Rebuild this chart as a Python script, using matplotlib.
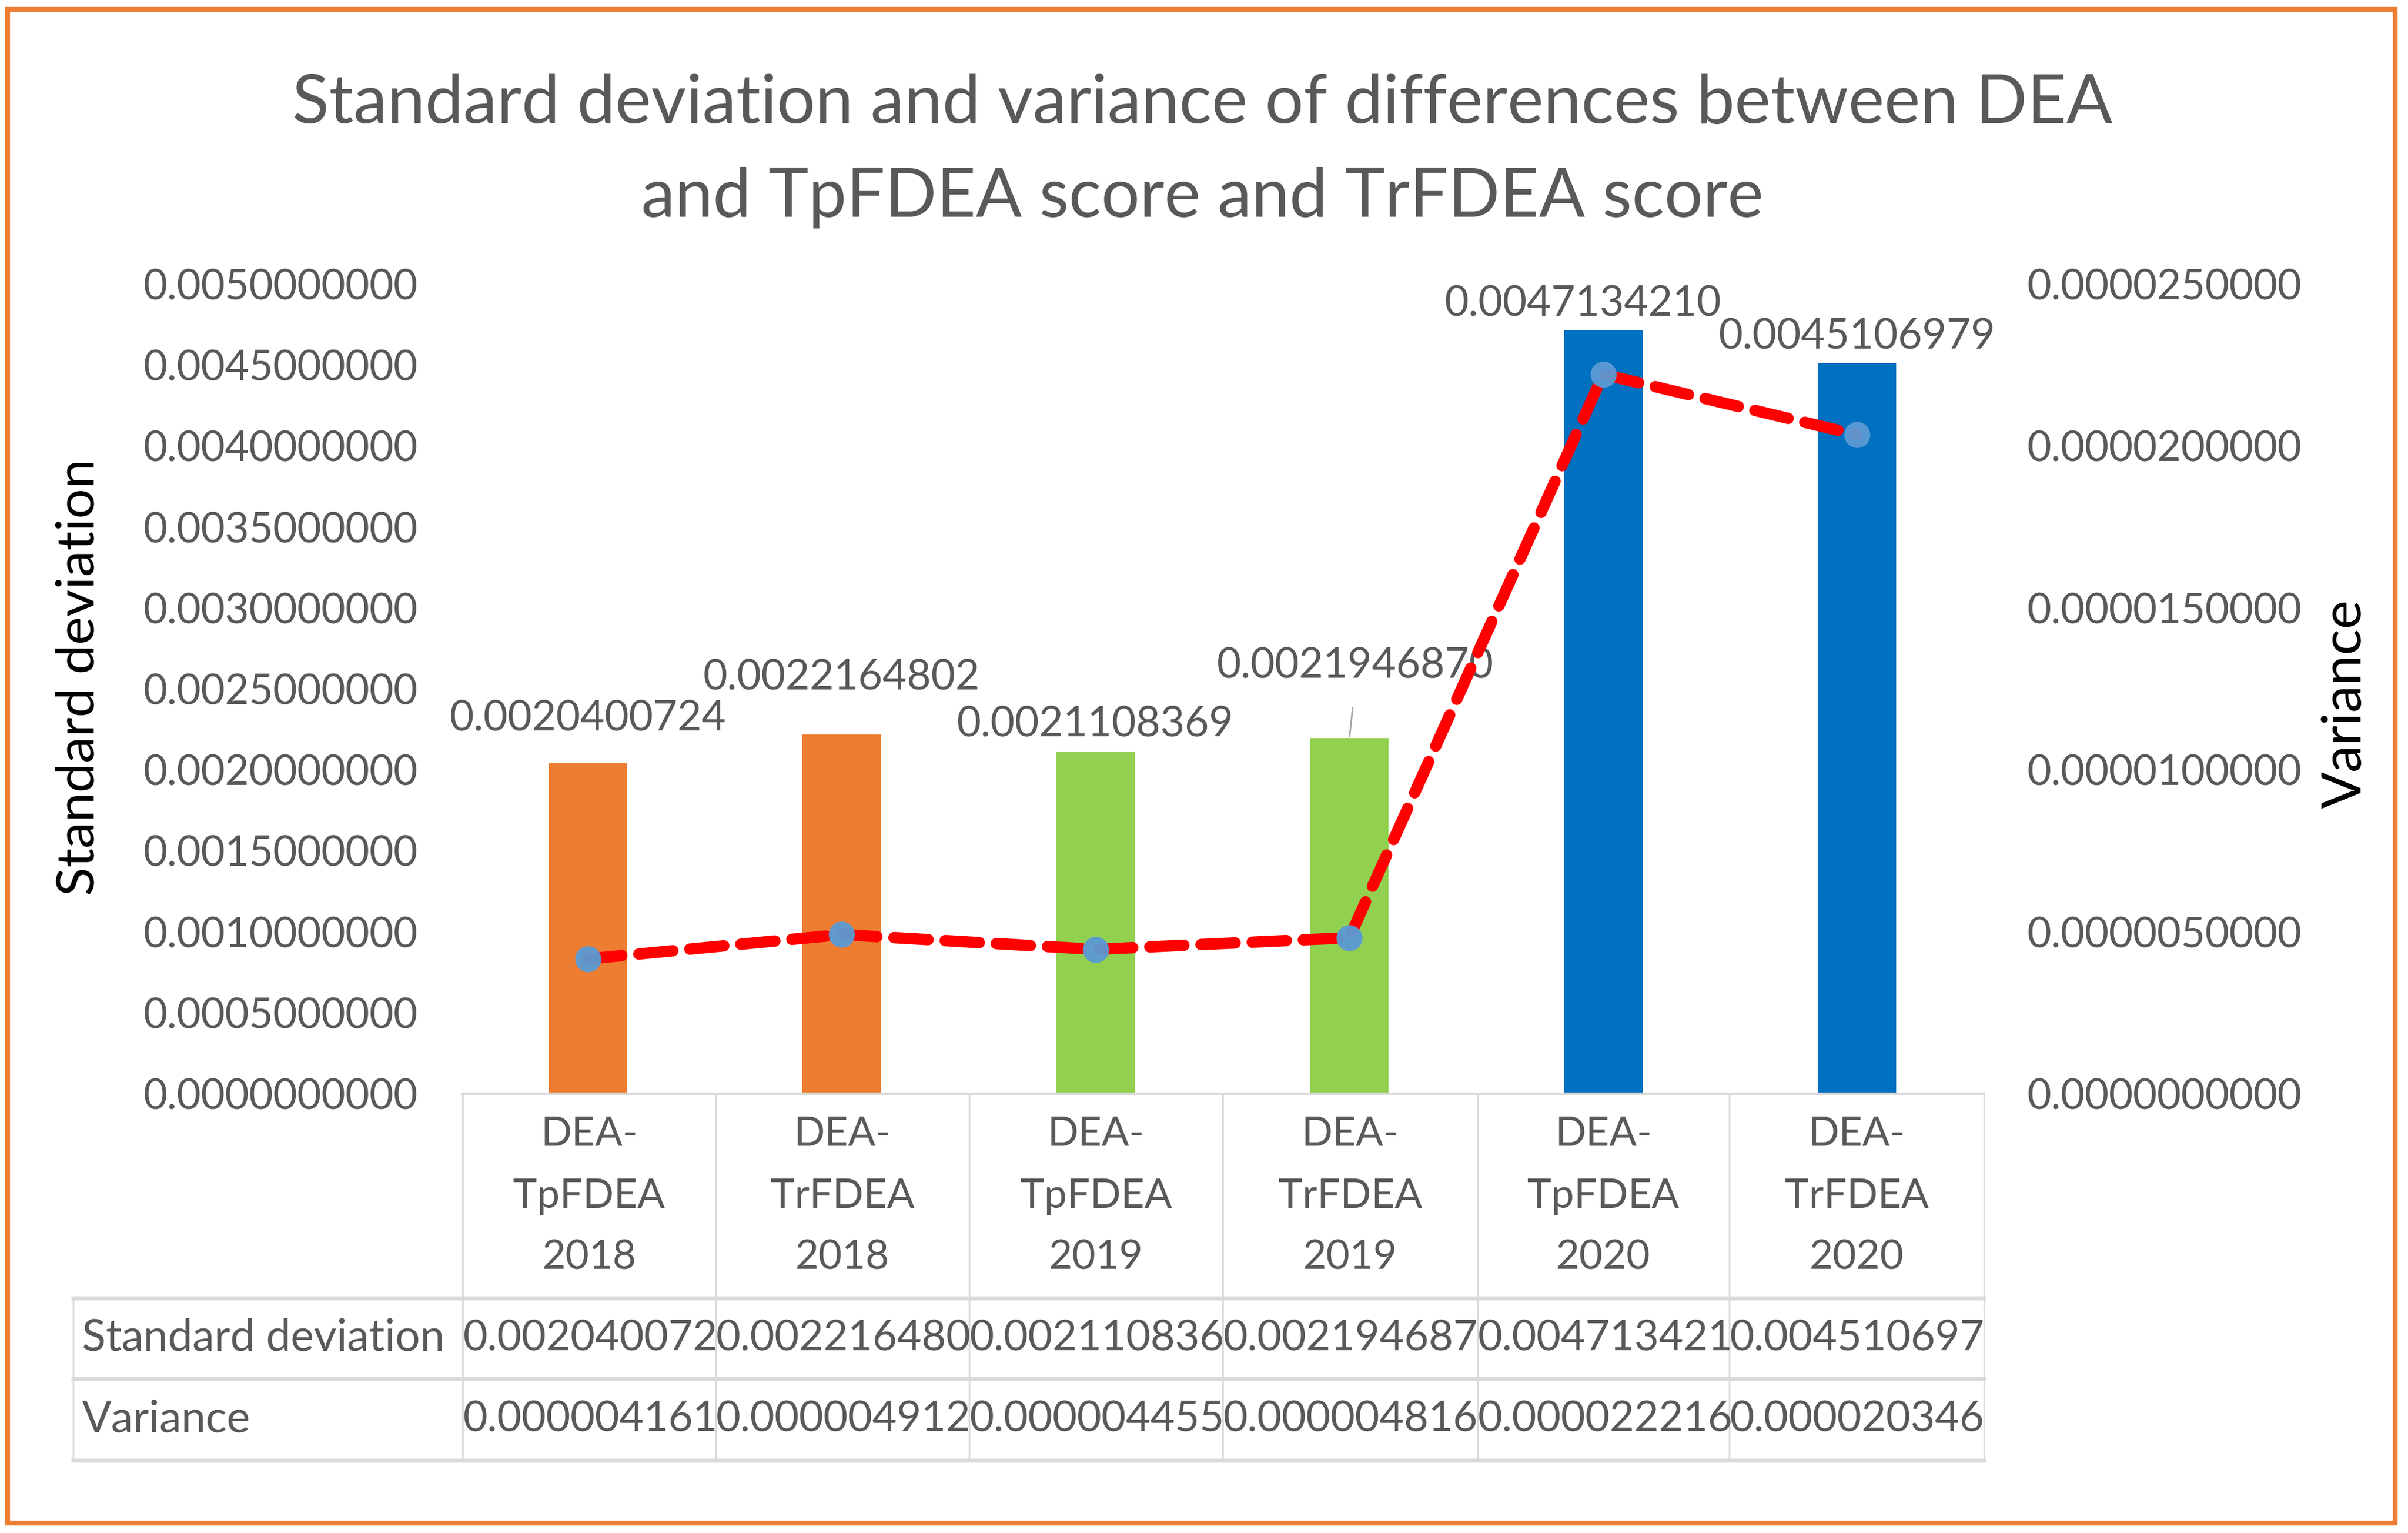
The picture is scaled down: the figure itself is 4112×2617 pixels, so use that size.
import matplotlib
matplotlib.use("Agg")
import matplotlib.pyplot as plt
from matplotlib.lines import Line2D
from matplotlib.patches import Rectangle
from matplotlib.ticker import FormatStrFormatter

plt.rcParams['font.family'] = ['Lato', 'DejaVu Sans']

# data
categories = ["DEA-\nTpFDEA\n2018", "DEA-\nTrFDEA\n2018",
              "DEA-\nTpFDEA\n2019", "DEA-\nTrFDEA\n2019",
              "DEA-\nTpFDEA\n2020", "DEA-\nTrFDEA\n2020"]
std_dev = [0.0020400724, 0.0022164802, 0.0021108369,
           0.0021946870, 0.0047134210, 0.0045106979]
variance = [0.0000041619, 0.0000049128, 0.0000044556,
            0.0000048167, 0.0000222163, 0.0000203464]
bar_colors = ["#ED7D31", "#ED7D31", "#92D050", "#92D050", "#0070C0", "#0070C0"]
row_names = ["Standard deviation", "Variance"]

TXT = "#595959"
GRID = "#D9D9D9"
W, H = 4112, 2617

fig = plt.figure(figsize=(W / 100, H / 100), dpi=100)


def fx(px):
    return px / W


def fy(py):
    return 1 - py / H


ax_l, ax_r, ax_t, ax_b = 787, 3388, 485, 1867
ax = fig.add_axes([fx(ax_l), fy(ax_b), fx(ax_r - ax_l), (ax_b - ax_t) / H])
ax2 = ax.twinx()

x = list(range(len(categories)))
bars = ax.bar(x, std_dev, width=0.31, color=bar_colors, zorder=2)
ax.set_xlim(-0.5, len(categories) - 0.5)
ax.set_ylim(0, 0.005)
ax.set_yticks([i * 0.0005 for i in range(11)])
ax.yaxis.set_major_formatter(FormatStrFormatter('%.10f'))
ax.set_xticks([])

ax2.plot(x, variance, color="red", linewidth=14, linestyle=(0, (3.0, 1.5)),
         dash_capstyle='round', zorder=3)
ax2.plot(x, variance, linestyle='none', marker='o', markersize=31,
         markerfacecolor="#5B9BD5", markeredgecolor="#5B9BD5", alpha=0.95, zorder=4)
ax2.set_ylim(0, 0.000025)
ax2.set_yticks([i * 0.000005 for i in range(6)])
ax2.yaxis.set_major_formatter(FormatStrFormatter('%.10f'))

for a in (ax, ax2):
    for s in a.spines.values():
        s.set_visible(False)
    a.tick_params(axis='y', length=0, labelsize=51, labelcolor=TXT, pad=53)
ax.set_zorder(1)
ax2.set_zorder(2)
ax2.patch.set_visible(False)

# bar value labels (offsets in pixels from bar top)
label_offsets = [(0, 76), (0, 97), (0, 47), (10, 123), (-34, 45), (0, 45)]
for i, (b, v) in enumerate(zip(bars, std_dev)):
    dx, dy = label_offsets[i]
    ax.annotate(f"{v:.10f}", (b.get_x() + b.get_width() / 2, v),
                xytext=(dx, dy), textcoords='offset pixels',
                ha='center', va='center', fontsize=51.5, color=TXT, zorder=5)
# leader line for the shifted label
ax.annotate("", (x[3], std_dev[3]), xytext=(6, 55), textcoords='offset pixels',
            arrowprops=dict(arrowstyle='-', color="#A6A6A6", lw=2))

# title
fig.text(0.4993, fy(178), "Standard deviation and variance of differences between DEA",
         ha='center', va='center', fontsize=83.5, color=TXT)
fig.text(0.4993, fy(338), "and TpFDEA score and TrFDEA score",
         ha='center', va='center', fontsize=83.5, color=TXT)

# axis titles
fig.text(fx(136), fy(1156), "Standard deviation", rotation=90,
         ha='center', va='center', fontsize=65, color="black")
fig.text(fx(4006), fy(1201), "Variance", rotation=90,
         ha='center', va='center', fontsize=67, color="black")

# data table below the axis
col_edges = [790, 1222, 1655, 2088, 2523, 2953, 3388]
row_lines = [2216, 2353, 2493]
tbl_left = 125


def hline(x0, x1, y, lw):
    fig.add_artist(Line2D([fx(x0), fx(x1)], [fy(y), fy(y)], color=GRID, lw=lw))


def vline(xp, y0, y1, lw):
    fig.add_artist(Line2D([fx(xp), fx(xp)], [fy(y0), fy(y1)], color=GRID, lw=lw))


hline(col_edges[0], col_edges[-1], ax_b, 3)
for y in row_lines:
    hline(tbl_left, col_edges[-1], y, 5)
for xp in col_edges:
    vline(xp, ax_b, row_lines[-1], 2)
vline(tbl_left, row_lines[0], row_lines[-1], 2)

header_y = [1937, 2042, 2147]
for i, cat in enumerate(categories):
    cx = (col_edges[i] + col_edges[i + 1]) / 2
    for part, yy in zip(cat.split("\n"), header_y):
        fig.text(fx(cx), fy(yy), part, ha='center', va='center',
                 fontsize=50, color=TXT)

for r, (name, vals) in enumerate(zip(row_names, [std_dev, variance])):
    yc = (row_lines[r] + row_lines[r + 1]) / 2
    fig.text(fx(140), fy(yc), name, ha='left', va='center', fontsize=54, color=TXT)
    for i, v in enumerate(vals):
        # cell is too narrow, so the value is clipped after 11 characters
        fig.text(fx(col_edges[i] + 1), fy(yc), f"{v:.10f}"[:11], ha='left',
                 va='center', fontsize=52, color=TXT)

# orange chart border
fig.add_artist(Rectangle((fx(13), fy(2600)), fx(4090 - 13), (2600 - 16) / H,
                         fill=False, edgecolor="#ED7D31", lw=6))

fig.savefig("out.png", dpi=100)
